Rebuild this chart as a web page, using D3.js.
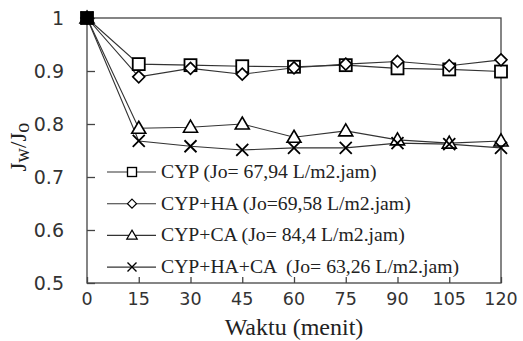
<!DOCTYPE html>
<html>
<head>
<meta charset="utf-8">
<script src="https://cdn.jsdelivr.net/npm/d3@7"></script>
<style>
body { margin: 0; background: #fff; }
svg { display: block; }
.serif { font-family: "Liberation Serif", "Times New Roman", "DejaVu Serif", serif; white-space: pre; }
</style>
</head>
<body>
<svg></svg>
<script>
// chart data
const times = [0, 15, 30, 45, 60, 75, 90, 105, 120];
const cyp = [1, 0.913, 0.911, 0.909, 0.908, 0.911, 0.905, 0.903, 0.899];
const cypHa = [1, 0.889, 0.905, 0.894, 0.906, 0.913, 0.918, 0.910, 0.921];
const cypCa = [1, 0.792, 0.794, 0.800, 0.775, 0.787, 0.770, 0.764, 0.768];
const cypHaCa = [1, 0.768, 0.758, 0.751, 0.755, 0.755, 0.764, 0.762, 0.755];
const seriesNames = [
  "CYP (Jo= 67,94 L/m2.jam)",
  "CYP+HA (Jo=69,58 L/m2.jam)",
  "CYP+CA (Jo= 84,4 L/m2.jam)",
  "CYP+HA+CA  (Jo= 63,26 L/m2.jam)"
];
const markerTypes = ["square", "diamond", "triangle", "cross"];
const yTicks = [0.5, 0.6, 0.7, 0.8, 0.9, 1];

const width = 523, height = 341;
const margin = {left: 87, right: 22, top: 18, bottom: 58};

const svg = d3.select("svg")
  .attr("width", width)
  .attr("height", height);

const x = d3.scaleLinear().domain([0, 120]).range([margin.left, width - margin.right]);
const y = d3.scaleLinear().domain([0.5, 1]).range([height - margin.bottom, margin.top]);

const series = [cyp, cypHa, cypCa, cypHaCa].map((vals, i) => ({
  name: seriesNames[i],
  marker: markerTypes[i],
  values: times.map((t, j) => ({t: t, v: vals[j]}))
}));

// marker shapes
function drawMarker(g, type, cx, cy, fill) {
  if (type === "square") {
    g.append("rect").attr("x", cx - 6).attr("y", cy - 6).attr("width", 12).attr("height", 12)
      .attr("fill", fill).attr("stroke", "#000").attr("stroke-width", 1.8);
  } else if (type === "diamond") {
    g.append("path").attr("d", `M${cx},${cy - 6}L${cx + 6},${cy}L${cx},${cy + 6}L${cx - 6},${cy}Z`)
      .attr("fill", fill).attr("stroke", "#000").attr("stroke-width", 1.6);
  } else if (type === "triangle") {
    g.append("path").attr("d", `M${cx},${cy - 7}L${cx + 7},${cy + 5}L${cx - 7},${cy + 5}Z`)
      .attr("fill", fill).attr("stroke", "#000").attr("stroke-width", 1.6);
  } else {
    g.append("path").attr("d", `M${cx - 6},${cy - 6}L${cx + 6},${cy + 6}M${cx - 6},${cy + 6}L${cx + 6},${cy - 6}`)
      .attr("stroke", "#000").attr("stroke-width", 1.8);
  }
}

// plot box
svg.append("rect")
  .attr("x", x(0)).attr("y", y(1))
  .attr("width", x(120) - x(0)).attr("height", y(0.5) - y(1))
  .attr("fill", "none").attr("stroke", "#444").attr("stroke-width", 1.3);

// axes with inward ticks
const yAxis = svg.append("g")
  .attr("transform", `translate(${x(0)},0)`)
  .call(d3.axisRight(y).tickValues(yTicks).tickSize(8).tickFormat(""));
yAxis.select(".domain").remove();
yAxis.selectAll("line").attr("stroke", "#444").attr("stroke-width", 1.3);

const xAxis = svg.append("g")
  .attr("transform", `translate(0,${y(0.5)})`)
  .call(d3.axisTop(x).tickValues(times).tickSize(6).tickFormat(""));
xAxis.select(".domain").remove();
xAxis.selectAll("line").attr("stroke", "#444").attr("stroke-width", 1.3);

// tick labels
svg.append("g").selectAll("text")
  .data(yTicks)
  .join("text")
  .attr("x", 64)
  .attr("y", d => y(d) + 7)
  .attr("text-anchor", "end")
  .attr("font-family", "DejaVu Sans")
  .attr("font-size", 19)
  .attr("fill", "#333")
  .text(d => d);

svg.append("g").selectAll("text")
  .data(times)
  .join("text")
  .attr("x", d => x(d))
  .attr("y", 305)
  .attr("text-anchor", "middle")
  .attr("font-family", "DejaVu Sans")
  .attr("font-size", 17.5)
  .attr("fill", "#333")
  .text(d => d);

// axis titles
svg.append("text")
  .attr("class", "serif")
  .attr("x", 294)
  .attr("y", 335)
  .attr("text-anchor", "middle")
  .attr("font-size", 24)
  .attr("fill", "#222")
  .text("Waktu (menit)");

const yTitle = svg.append("text")
  .attr("class", "serif")
  .attr("transform", "translate(26,147) rotate(-90)")
  .attr("text-anchor", "middle")
  .attr("font-size", 23)
  .attr("fill", "#222");
yTitle.append("tspan").text("J");
yTitle.append("tspan").attr("font-size", 20).attr("dy", 3).text("w");
yTitle.append("tspan").attr("dy", -3).text("/J");
yTitle.append("tspan").attr("font-size", 20).attr("dy", 3).text("o");

// lines
const line = d3.line().x(d => x(d.t)).y(d => y(d.v));
svg.append("g").selectAll("path")
  .data(series)
  .join("path")
  .attr("d", d => line(d.values))
  .attr("fill", "none")
  .attr("stroke", "#333")
  .attr("stroke-width", 1.1);

// markers
series.forEach(s => {
  const g = svg.append("g");
  s.values.forEach(d => {
    drawMarker(g, s.marker, x(d.t), y(d.v), d.t === 0 ? "#000" : "#fff");
  });
});

// legend
const legend = svg.append("g");
series.forEach((s, i) => {
  const ly = 172 + i * 31.7;
  legend.append("line")
    .attr("x1", 107).attr("x2", 156).attr("y1", ly).attr("y2", ly)
    .attr("stroke", "#333").attr("stroke-width", 1.1);
  const mg = legend.append("g").attr("transform", `translate(132,${ly}) scale(0.75) translate(-132,${-ly})`);
  drawMarker(mg, s.marker, 132, ly, "#fff");
  legend.append("text")
    .attr("class", "serif")
    .attr("x", 161)
    .attr("y", ly + 6)
    .attr("font-size", 19.7)
    .attr("fill", "#222")
    .text(s.name);
});
</script>
</body>
</html>
